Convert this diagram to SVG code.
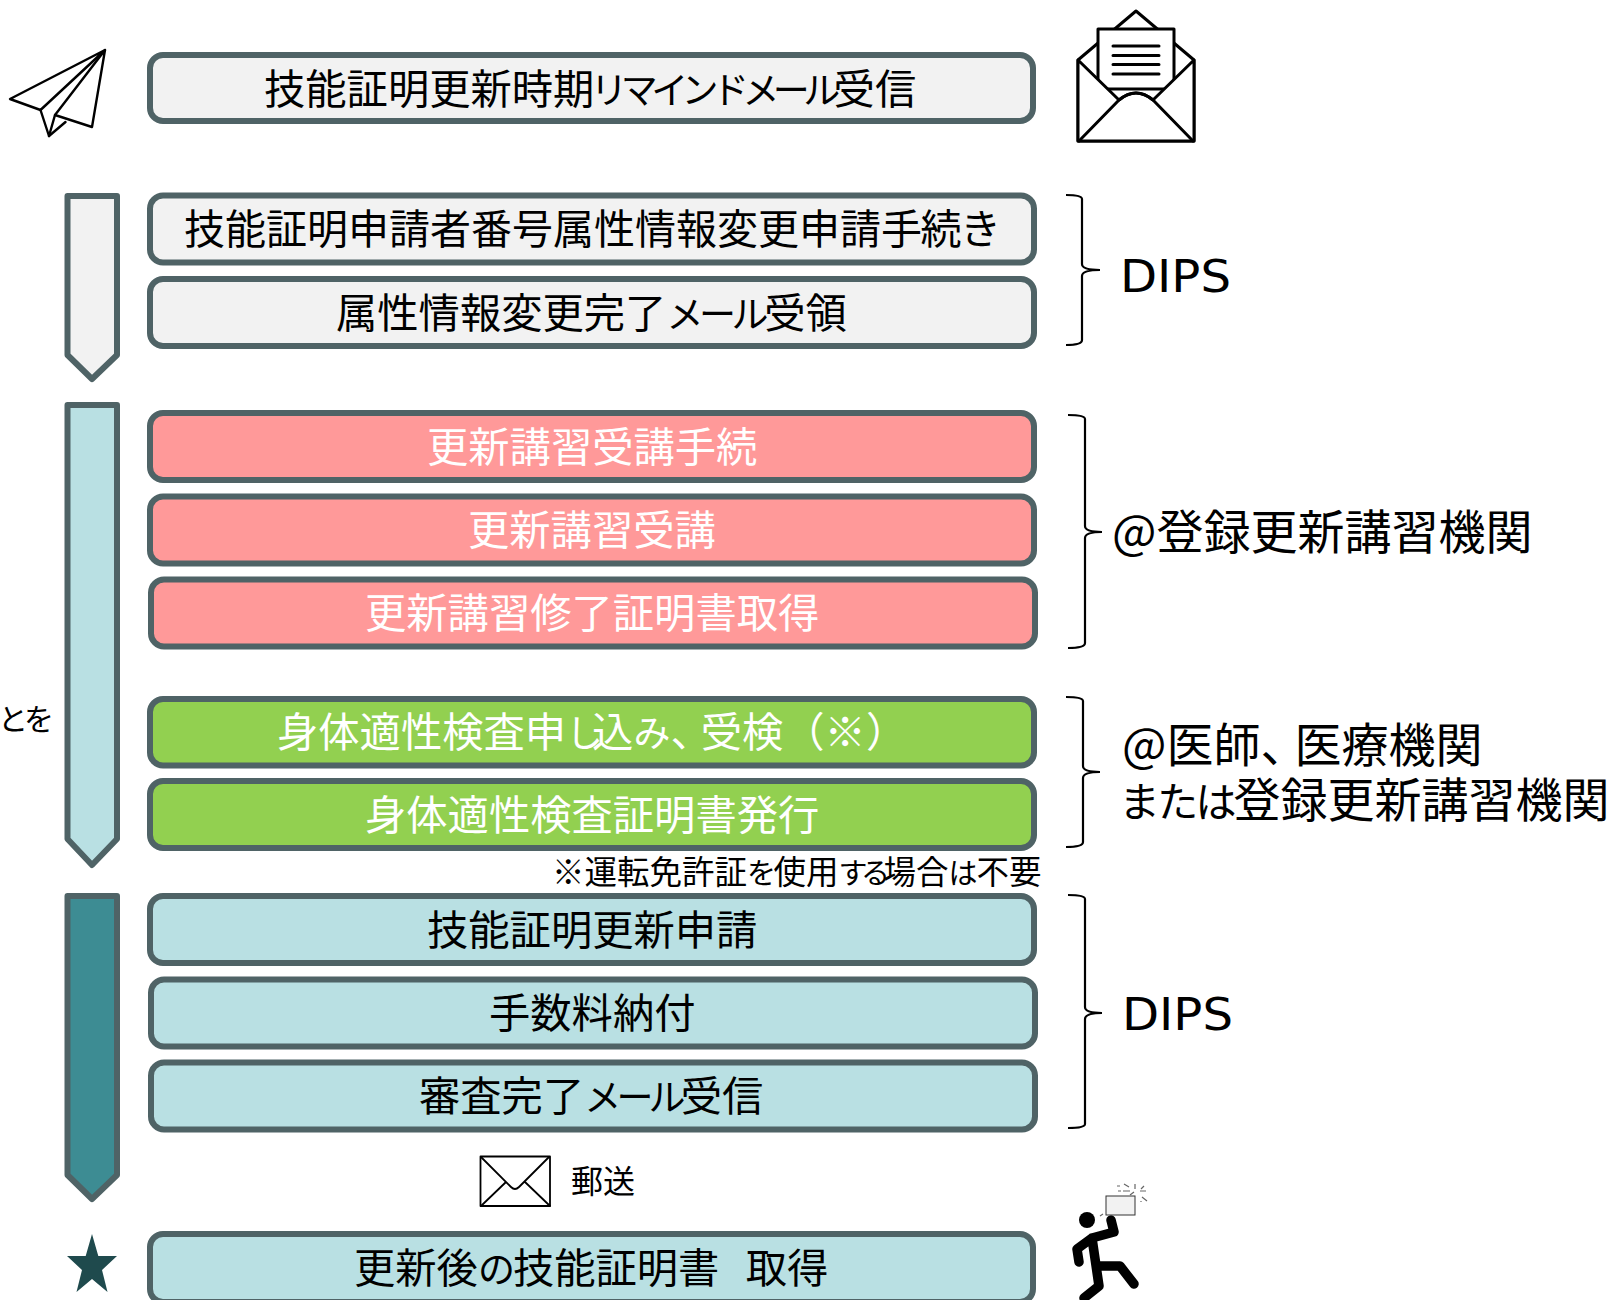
<svg xmlns="http://www.w3.org/2000/svg" width="1613" height="1300" viewBox="0 0 1613 1300">
<style>
text{font-family:"Noto Sans CJK JP","Noto Sans",sans-serif;fill:#000}
.b rect{stroke:#4f6366;stroke-width:6}
.t{font-size:41.300px}
.k{font-size:37px}
.w{fill:#fff}
.lat{font-size:47px}
.dips{font-family:"DejaVu Sans",sans-serif;font-size:45px}
.g{fill:#f2f2f2}.p{fill:#ff9999}.n{fill:#92d050}.l{fill:#b9e0e3}
.ch{stroke:#4f6366;stroke-width:6;stroke-linejoin:round}
.ic{fill:#fff;stroke:#000;stroke-linejoin:round;stroke-linecap:round}
.br{fill:none;stroke:#000;stroke-width:2.2}
</style>
<rect width="1613" height="1300" fill="#fff"/>
<g id="boxes">
<g id="n1" class="b"><rect class="g" x="150" y="55" width="883" height="66" rx="13"/><text class="t" x="264" y="104">技能証明更新時<tspan letter-spacing="-4">期</tspan><tspan class="k" letter-spacing="-6.600">リマインドメール</tspan>受信</text></g>
<g id="n2" class="b"><rect class="g" x="150" y="195.500" width="884" height="67" rx="13"/><text class="t" style="font-size:41px" x="184" y="244">技能証明申請者番号属性情報変更申請<tspan letter-spacing="-1.500">手続</tspan>き</text></g>
<g id="n3" class="b"><rect class="g" x="150" y="279" width="884" height="67" rx="13"/><text class="t" x="336" y="328">属性情報変更完了<tspan class="k" letter-spacing="-4.400">メール</tspan>受領</text></g>
<g id="n4" class="b"><rect class="p" x="150" y="413" width="884" height="67" rx="13"/><text class="t w" x="427" y="462">更新講習受講手続</text></g>
<g id="n5" class="b"><rect class="p" x="150" y="496.500" width="884" height="67" rx="13"/><text class="t w" x="468" y="545">更新講習受講</text></g>
<g id="n6" class="b"><rect class="p" x="151" y="579.500" width="884" height="67" rx="13"/><text class="t w" x="365" y="628">更新講習修了証明書取得</text></g>
<g id="n7" class="b"><rect class="n" x="150" y="699" width="884" height="66.500" rx="13"/><text class="t w" x="277" y="747">身体適性検査申<tspan class="k" letter-spacing="-11">し</tspan>込<tspan class="k" letter-spacing="0">み</tspan><tspan letter-spacing="-11">、</tspan>受検（※）</text></g>
<g id="n8" class="b"><rect class="n" x="150" y="781" width="884" height="67" rx="13"/><text class="t w" x="365" y="830">身体適性検査証明書発行</text></g>
<g id="n9" class="b"><rect class="l" x="150" y="896" width="884" height="67" rx="13"/><text class="t" x="427" y="945">技能証明更新申請</text></g>
<g id="n10" class="b"><rect class="l" x="151" y="979.500" width="884" height="67" rx="13"/><text class="t" x="489" y="1028">手数料納付</text></g>
<g id="n11" class="b"><rect class="l" x="151" y="1062.500" width="884" height="67" rx="13"/><text class="t" x="419" y="1111">審査完了<tspan class="k" letter-spacing="-4.800">メール</tspan>受信</text></g>
<g id="n12" class="b"><rect class="l" x="150" y="1234" width="883" height="68" rx="13"/><text class="t" x="354" y="1283">更新後<tspan class="k" letter-spacing="-2">の</tspan>技能証明書<tspan letter-spacing="-15">　</tspan>取得</text></g>
</g>
<g id="chevrons">
<path id="c1" class="ch g" d="M67.500 196H117V355L92 379L67.500 355Z"/>
<path id="c2" class="ch l" d="M67.500 405H117V839L92 865L67.500 839Z"/>
<path id="c3" class="ch" fill="#3d8c93" d="M67.500 896H117V1175L92 1199L67.500 1175Z"/>
</g>
<g id="labels">
<text x="50" y="730" font-size="30" text-anchor="end" letter-spacing="-4">ことを</text>
<text x="552" y="884" font-size="32.500">※運転免許証<tspan font-size="29" letter-spacing="-2.600">を</tspan>使用<tspan font-size="29" letter-spacing="-6.500">する</tspan>場合<tspan font-size="29" letter-spacing="-1">は</tspan>不要</text>
<text x="571" y="1193" font-size="32">郵送</text>
<text class="dips" x="1120" y="292" textLength="111" lengthAdjust="spacingAndGlyphs">DIPS</text>
<text class="lat" x="1112" y="549">@登録更新講習機関</text>
<text class="lat" x="1122" y="762">@医師<tspan letter-spacing="-13">、</tspan>医療機関</text>
<text class="lat" x="1119" y="817"><tspan font-size="41" letter-spacing="-2.800">または</tspan>登録更新講習機関</text>
<text class="dips" x="1122" y="1030" textLength="111" lengthAdjust="spacingAndGlyphs">DIPS</text>
</g>
<g id="connectors">
<path class="br" d="M1066 195Q1082 195 1082 199V264Q1082 270 1100 270Q1082 270 1082 276V340Q1082 345 1066 345"/>
<path class="br" d="M1068 415Q1085 415 1085 419V526Q1085 532 1102 532Q1085 532 1085 538V643Q1085 648 1068 648"/>
<path class="br" d="M1066 697Q1083 697 1083 701V766Q1083 772 1100 772Q1083 772 1083 778V842Q1083 847 1066 847"/>
<path class="br" d="M1068 895Q1085 895 1085 899V1007Q1085 1013 1102 1013Q1085 1013 1085 1019V1124Q1085 1128 1068 1128"/>
</g>
<g id="plane" class="ic" stroke-width="2.400">
<path d="M105 50L10 99L40.500 110Z"/>
<path d="M40.500 110L49 136L65.500 122" fill="none"/>
<path d="M49 136L55 115"/>
<path d="M105 50L55 115L92 127Z"/>
</g>
<g id="mail" class="ic" stroke-width="3">
<path d="M1078 60L1136 11L1194 60V141H1078Z"/>
<rect x="1098" y="29" width="76" height="60"/>
<path d="M1113 46H1159M1113 55.500H1159M1113 64.500H1159M1113 74H1159" fill="none"/>
<path d="M1078 60L1119 100Q1136 86 1153 100L1194 60V141H1078Z"/>
<path d="M1079 141L1119 100Q1136 86 1153 100L1193 141" fill="none"/>
</g>
<g id="letter" class="ic" stroke-width="1.800">
<rect x="480.500" y="1156.500" width="69.500" height="49.500"/>
<path d="M481 1157L511 1187Q515 1191 519 1187L549 1157M481 1206L506 1182M550 1206L525 1182" fill="none"/>
</g>
<path id="star" fill="#1f4a4d" d="M92 1234L98.300 1256H117L102 1270L107.500 1292L92 1279L76.500 1292L82 1270L67 1256H85.700Z"/>
<g id="person">
<circle cx="1087" cy="1220" r="8" fill="#000"/>
<path d="M1111 1220L1114 1232L1092 1238L1077 1249L1079 1262M1092 1238L1099 1286L1084 1298M1099 1266L1120 1266L1134 1284" fill="none" stroke="#000" stroke-width="9.500" stroke-linecap="round" stroke-linejoin="round"/>
<rect x="1106" y="1196" width="29" height="19" fill="#f2f2f2" stroke="#333" stroke-width="1"/>
<path d="M1117 1186h3M1124 1184l5 3M1135 1184v5M1144 1186l-3 3M1118 1191h3M1123 1191h7M1140 1191h6M1130 1195l4-3M1142 1197l5 4M1141 1201v1M1103 1214l-3 2" stroke="#666" stroke-width="1.200" fill="none"/>
</g>
</svg>
